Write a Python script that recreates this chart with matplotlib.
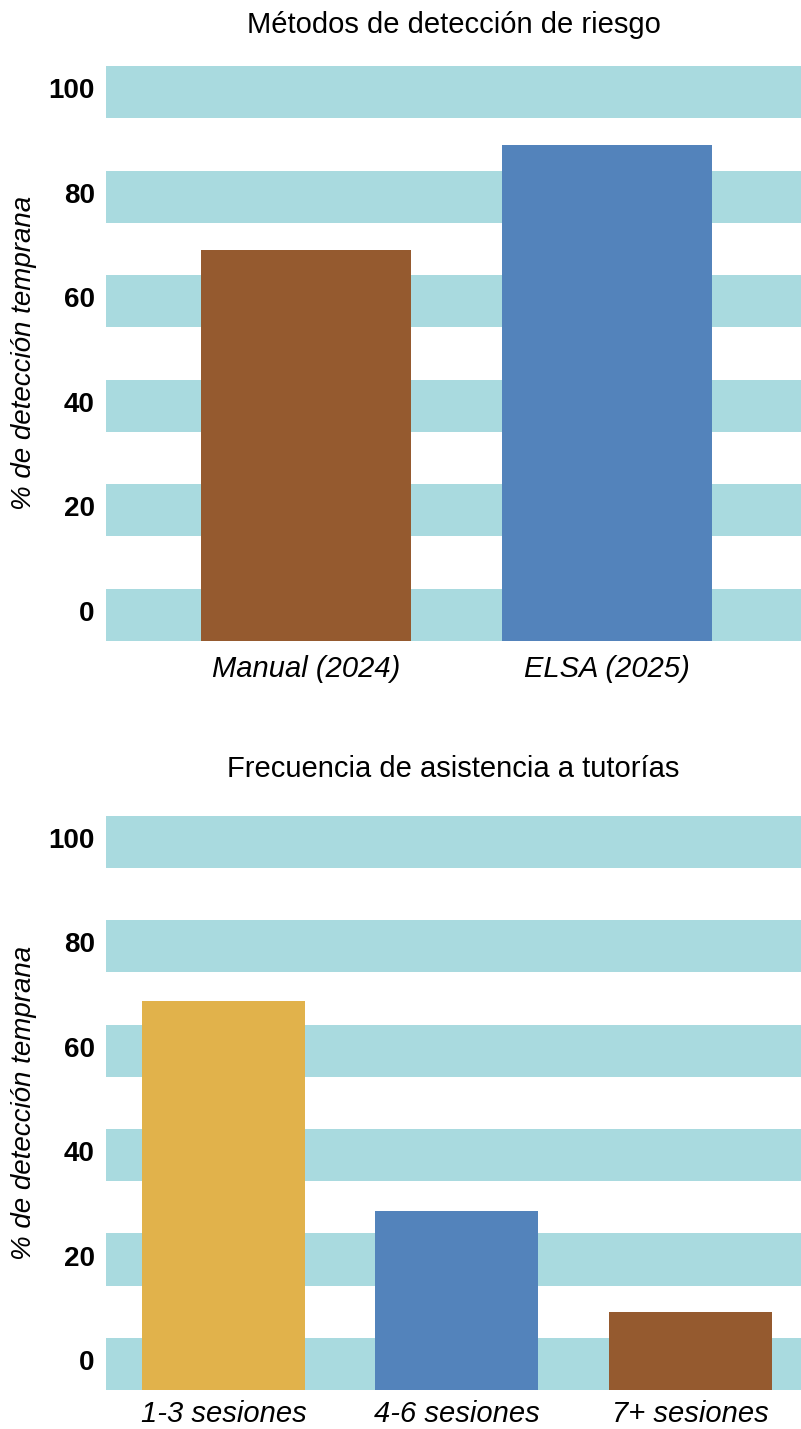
import numpy as np
import matplotlib.pyplot as plt
from matplotlib.transforms import ScaledTranslation

plt.rcParams['font.family'] = ['Liberation Sans', 'DejaVu Sans']

# data
metodos = ['Manual (2024)', 'ELSA (2025)']
metodos_vals = [74.7, 94.8]
metodos_colors = ['#955a2f', '#5383bb']

sesiones = ['1-3 sesiones', '4-6 sesiones', '7+ sesiones']
sesiones_vals = [74.6, 34.3, 14.9]
sesiones_colors = ['#e1b24b', '#5383bb', '#955a2f']

yticks = [0, 20, 40, 60, 80, 100]
band_color = '#a9dadf'

fig = plt.figure(figsize=(8.01, 14.29), dpi=100)
ax1 = fig.add_axes([0.1323, 0.5516, 0.8677, 0.4022])
ax2 = fig.add_axes([0.1323, 0.0273, 0.8677, 0.4018])


def style(ax, cats, vals, colors, title, xlim, width, pad, xpad):
    for t in yticks:
        ax.axhspan(t, t + 10, color=band_color, lw=0, zorder=0)
    ax.bar(range(len(cats)), vals, width=width, color=colors, zorder=2)
    ax.set_ylim(0, 110)
    ax.set_xlim(*xlim)
    ax.set_xticks(range(len(cats)))
    ax.set_xticklabels(cats, fontsize=21, fontstyle='italic')
    ax.set_yticks(yticks)
    ax.set_yticklabels([str(t) for t in yticks], fontsize=20, fontweight='bold')
    ax.tick_params(length=0, axis='y', pad=8)
    ax.tick_params(length=0, axis='x', pad=xpad)
    for lab in ax.get_yticklabels():
        lab.set_transform(lab.get_transform() + ScaledTranslation(0, 0.30, fig.dpi_scale_trans))
    for s in ax.spines.values():
        s.set_visible(False)
    ax.set_ylabel('% de detección temprana', fontsize=20, fontstyle='italic', labelpad=8)
    ax.set_title(title, fontsize=21, pad=pad)


style(ax1, metodos, metodos_vals, metodos_colors, 'Métodos de detección de riesgo',
      (-0.665, 1.645), 0.70, 24, 10)
style(ax2, sesiones, sesiones_vals, sesiones_colors, 'Frecuencia de asistencia a tutorías',
      (-0.503, 2.473), 0.698, 28, 7)

fig.savefig('out.png', dpi=100)
